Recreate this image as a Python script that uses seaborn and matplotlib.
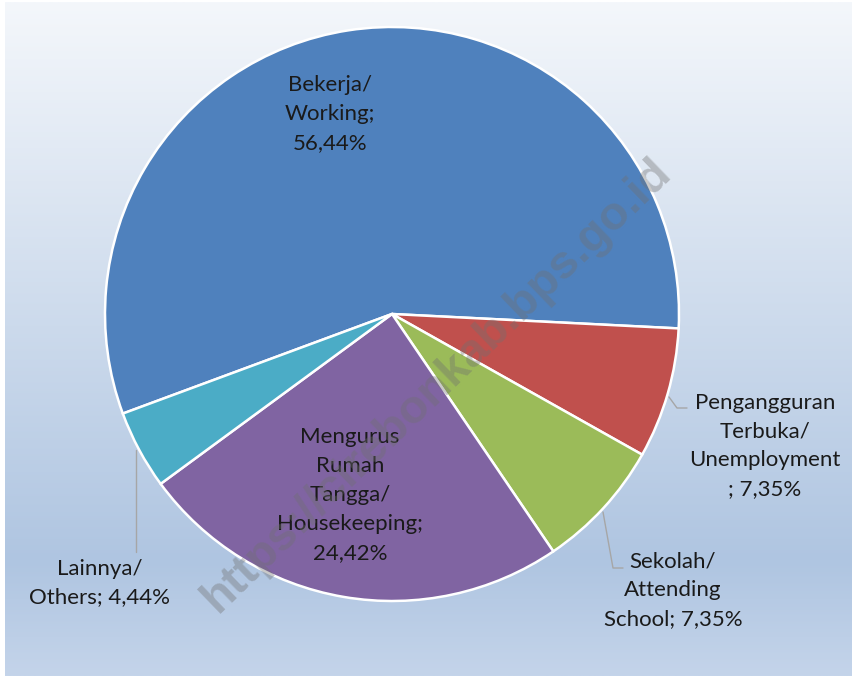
import numpy as np
import matplotlib
matplotlib.use("Agg")
import matplotlib.pyplot as plt
import seaborn as sns

# ---- data ----
categories = ["Bekerja/\nWorking;", "Pengangguran\nTerbuka/\nUnemployment\n;", "Sekolah/\nAttending\nSchool;",
              "Mengurus\nRumah\nTangga/\nHousekeeping;", "Lainnya/\nOthers;"]
values = [56.44, 7.35, 7.35, 24.42, 4.44]
value_labels = ["56,44%", "7,35%", "7,35%", "24,42%", "4,44%"]
colors = ["#4F81BD", "#C0504D", "#9BBB59", "#8064A2", "#4BACC6"]

sns.set_style("white")
plt.rcParams['font.family'] = ['Lato', 'DejaVu Sans']

W, H = 853, 676
fig = plt.figure(figsize=(W / 100, H / 100), dpi=100)
fig.patch.set_facecolor("white")
ax = fig.add_axes([0, 0, 1, 1])

# background gradient (top -> bottom)
ys = np.linspace(0, 1, 400)
stops_y = [0.0, 0.83, 1.0]
stops_c = np.array([[244, 247, 251], [175, 197, 225], [196, 212, 234]]) / 255.0
grad = np.stack([np.interp(ys, stops_y, stops_c[:, k]) for k in range(3)], axis=1)
grad = np.repeat(grad[:, None, :], 2, axis=1)
ax.imshow(grad, extent=(5, W, 0, H - 2), aspect="auto", zorder=0, interpolation="bilinear")

cx, cy, R = 392, H - 314, 287
wedges, _ = ax.pie(values, colors=sns.color_palette(colors), startangle=200.3, counterclock=False,
                   center=(cx, cy), radius=R, frame=True,
                   wedgeprops=dict(edgecolor="white", linewidth=1.8))
for w in wedges:
    w.set_zorder(2)
ax.set_xlim(0, W)
ax.set_ylim(0, H)
ax.set_aspect("equal")
ax.axis("off")

txt = dict(fontsize=16, color="#1a1a1a", ha="center", va="center", linespacing=1.55, zorder=5)

ax.text(330, H - 114, categories[0] + "\n" + value_labels[0], **txt)
ax.text(765, H - 446, categories[1] + " " + value_labels[1], **txt)
ax.text(673, H - 590, categories[2] + " " + value_labels[2], **txt)
ax.text(350, H - 495, categories[3] + "\n" + value_labels[3], **txt)
ax.text(100, H - 583, categories[4] + " " + value_labels[4], **txt)

lc = dict(color="#a6a6a6", lw=1.0, zorder=4)
ax.plot([669, 677, 687], [H - 397, H - 408, H - 408], **lc)
ax.plot([603, 613, 623], [H - 512, H - 568, H - 568], **lc)
ax.plot([136, 136], [H - 450, H - 552], **lc)

ax.text(437, H - 385, "https://cirebonkab.bps.go.id", rotation=44, fontsize=34, fontweight="bold",
        color="#707070", alpha=0.38, ha="center", va="center", family=["Liberation Sans"],
        rotation_mode="anchor", zorder=6)

fig.savefig("out.png", dpi=100, facecolor=fig.get_facecolor())
